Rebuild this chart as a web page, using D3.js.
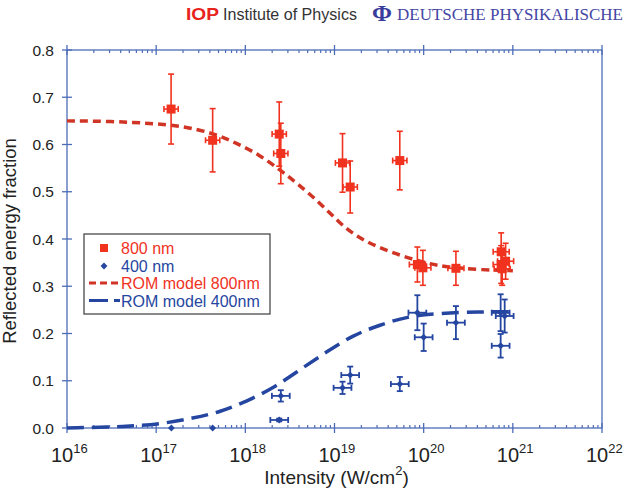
<!DOCTYPE html>
<html>
<head>
<meta charset="utf-8">
<script src="https://cdn.jsdelivr.net/npm/d3@7"></script>
<style>
  body { margin: 0; background: #fff; }
  text { font-family: "Liberation Sans", Arial, sans-serif; }
</style>
</head>
<body>
<div id="grafico"></div>
<script>
// measured 800 nm points: intensity, reflectivity, y error, x error (decades)
const redI    = [1.47e17, 4.3e17, 2.4e18, 2.5e18, 1.23e19, 1.5e19, 5.4e19, 8.5e19, 9.8e19, 2.3e20, 7.4e20, 8.3e20, 7.4e20, 7.6e20];
const redR    = [0.675, 0.609, 0.622, 0.581, 0.561, 0.510, 0.566, 0.346, 0.339, 0.338, 0.373, 0.353, 0.346, 0.337];
const redErr  = [0.074, 0.067, 0.068, 0.064, 0.062, 0.055, 0.062, 0.037, 0.037, 0.036, 0.040, 0.038, 0.040, 0.035];
const redXErr = [0.08, 0.08, 0.08, 0.08, 0.08, 0.08, 0.08, 0.09, 0.09, 0.09, 0.09, 0.09, 0.09, 0.09];

// measured 400 nm points
const blueI    = [1.48e17, 4.3e17, 2.4e18, 2.5e18, 1.23e19, 1.5e19, 5.4e19, 8.5e19, 1.0e20, 2.3e20, 7.3e20, 8.1e20, 7.3e20];
const blueR    = [0.000, 0.000, 0.017, 0.068, 0.085, 0.112, 0.093, 0.244, 0.192, 0.223, 0.244, 0.237, 0.174];
const blueErr  = [0, 0, 0.003, 0.012, 0.013, 0.018, 0.015, 0.037, 0.029, 0.035, 0.039, 0.035, 0.025];
const blueXErr = [0, 0, 0.1, 0.1, 0.1, 0.1, 0.1, 0.1, 0.1, 0.1, 0.1, 0.1, 0.1];

// ROM model curves (log10 intensity, reflectivity)
const romRedExp  = [16, 16.5, 16.93, 17.3, 17.64, 17.9, 18.16, 18.39, 18.58, 18.84, 19.06, 19.25, 19.47, 19.77, 20.07, 20.26, 20.6, 21.0];
const romRedVal  = [0.650, 0.649, 0.645, 0.639, 0.624, 0.603, 0.578, 0.546, 0.518, 0.476, 0.433, 0.405, 0.384, 0.363, 0.347, 0.341, 0.335, 0.333];
const romBlueExp = [16, 16.67, 17.04, 17.42, 17.72, 18.01, 18.31, 18.61, 18.91, 19.21, 19.51, 19.81, 20.18, 20.63, 20.97];
const romBlueVal = [0.000, 0.003, 0.008, 0.021, 0.034, 0.056, 0.084, 0.123, 0.161, 0.197, 0.218, 0.236, 0.243, 0.246, 0.246];

const xTickExp = [16, 17, 18, 19, 20, 21, 22];
const yTicks   = [0.0, 0.1, 0.2, 0.3, 0.4, 0.5, 0.6, 0.7, 0.8];

const legendLabels = ["800 nm", "400 nm", "ROM model 800nm", "ROM model 400nm"];

const red      = "#f0321e";
const redLine  = "#cf3424";
const blue     = "#2546a0";
const axisCol  = "#4d6cb8";

const margin = { top: 50, left: 67, bottom: 62, right: 25 };
const W = 627, H = 490;
const width  = W - margin.left - margin.right;
const height = H - margin.top - margin.bottom;

const svg0 = d3.select("#grafico")
               .append("svg")
               .attr("width", W)
               .attr("height", H);

svg0.append("rect").attr("width", W).attr("height", H).attr("fill", "#fff");

// header logos
const hdr = svg0.append("g");
hdr.append("text").attr("x", 186).attr("y", 20)
   .attr("font-size", 17).attr("font-weight", "bold").attr("fill", "#e8231c")
   .attr("textLength", 33).attr("lengthAdjust", "spacingAndGlyphs")
   .text("IOP");
hdr.append("text").attr("x", 223).attr("y", 20)
   .attr("font-size", 16.5).attr("fill", "#333")
   .attr("textLength", 134).attr("lengthAdjust", "spacingAndGlyphs")
   .text("Institute of Physics");
hdr.append("text").attr("x", 372).attr("y", 21)
   .style("font-family", "'Liberation Serif', serif")
   .attr("font-size", 24).attr("font-weight", "bold").attr("fill", "#3a3c9c")
   .text("Φ");
hdr.append("text").attr("x", 397).attr("y", 20)
   .style("font-family", "'Liberation Serif', serif")
   .attr("font-size", 16.5).attr("fill", "#4446a4")
   .attr("textLength", 226).attr("lengthAdjust", "spacingAndGlyphs")
   .text("DEUTSCHE PHYSIKALISCHE");

const svg = svg0.append("g")
                .attr("transform", `translate(${margin.left}, ${margin.top})`);

const xScale = d3.scaleLog()
                 .domain([1e16, 1e22])
                 .range([0, width]);

const yScale = d3.scaleLinear()
                 .domain([0, 0.8])
                 .range([height, 0]);

// frame
svg.append("rect")
   .attr("x", 0).attr("y", 0)
   .attr("width", width).attr("height", height)
   .attr("fill", "none")
   .attr("stroke", axisCol)
   .attr("stroke-width", 1.3);

// major x ticks cross the axis lines, minor ticks point inward
const minor = [];
xTickExp.slice(0, -1).forEach(e => {
    for (let k = 2; k <= 9; k++) minor.push(k * Math.pow(10, e));
});
const majors = xTickExp.map(e => Math.pow(10, e));

[0, height].forEach(yy => {
    const dir = yy === 0 ? 1 : -1;
    svg.append("g").selectAll("line")
       .data(majors).join("line")
       .attr("x1", d => xScale(d)).attr("x2", d => xScale(d))
       .attr("y1", yy - 5).attr("y2", yy + 5)
       .attr("stroke", axisCol).attr("stroke-width", 1.3);
    svg.append("g").selectAll("line")
       .data(minor).join("line")
       .attr("x1", d => xScale(d)).attr("x2", d => xScale(d))
       .attr("y1", yy).attr("y2", yy + dir * 3)
       .attr("stroke", axisCol).attr("stroke-width", 1.2);
});

// y ticks on left
svg.append("g").selectAll("line")
   .data(yTicks).join("line")
   .attr("x1", -5).attr("x2", 5)
   .attr("y1", d => yScale(d)).attr("y2", d => yScale(d))
   .attr("stroke", axisCol).attr("stroke-width", 1.3);

svg.append("g").selectAll("text")
   .data(yTicks).join("text")
   .attr("x", -13)
   .attr("y", d => yScale(d) + 5.5)
   .attr("text-anchor", "end")
   .attr("font-size", 15.5)
   .attr("fill", "#222")
   .text(d => d.toFixed(1));

// x tick labels 10^n
const xl = svg.append("g").selectAll("text")
   .data(xTickExp).join("text")
   .attr("x", d => xScale(Math.pow(10, d)) - 16)
   .attr("y", height + 34)
   .attr("font-size", 20)
   .attr("fill", "#222");
xl.append("tspan").text("10");
xl.append("tspan").attr("dy", -9).attr("font-size", 13).text(d => d);

// axis titles
svg.append("text")
   .attr("x", width / 2 + 2)
   .attr("y", height + 56)
   .attr("text-anchor", "middle")
   .attr("font-size", 19)
   .attr("fill", "#222")
   .call(t => {
       t.append("tspan").text("Intensity (W/cm");
       t.append("tspan").attr("dy", -9).attr("font-size", 13).text("2");
       t.append("tspan").attr("dy", 9).text(")");
   });

svg.append("text")
   .attr("transform", `translate(${15.5 - margin.left}, ${height / 2 + 2}) rotate(-90)`)
   .attr("text-anchor", "middle")
   .attr("font-size", 18.5)
   .attr("fill", "#222")
   .text("Reflected energy fraction");

// model curves
const romLine = d3.line()
                  .x(d => xScale(Math.pow(10, d[0])))
                  .y(d => yScale(d[1]))
                  .curve(d3.curveBasis);

svg.append("path")
   .datum(romRedExp.map((e, i) => [e, romRedVal[i]]))
   .attr("d", romLine)
   .attr("fill", "none")
   .attr("stroke", redLine)
   .attr("stroke-width", 3.5)
   .attr("stroke-dasharray", "8,5");

svg.append("path")
   .datum(romBlueExp.map((e, i) => [e, romBlueVal[i]]))
   .attr("d", romLine)
   .attr("fill", "none")
   .attr("stroke", blue)
   .attr("stroke-width", 3.5)
   .attr("stroke-dasharray", "17,8");

// error bars
function errorBars(I, R, yErr, xErr, color, sw) {
    const g = svg.append("g").attr("stroke", color).attr("stroke-width", sw);
    I.forEach((v, i) => {
        const cx = xScale(v), cy = yScale(R[i]);
        if (yErr[i] > 0) {
            const y1 = yScale(R[i] + yErr[i]), y2 = yScale(R[i] - yErr[i]);
            g.append("line").attr("x1", cx).attr("x2", cx).attr("y1", y1).attr("y2", y2);
            g.append("line").attr("x1", cx - 3).attr("x2", cx + 3).attr("y1", y1).attr("y2", y1);
            g.append("line").attr("x1", cx - 3).attr("x2", cx + 3).attr("y1", y2).attr("y2", y2);
        }
        if (xErr[i] > 0) {
            const x1 = xScale(v / Math.pow(10, xErr[i])), x2 = xScale(v * Math.pow(10, xErr[i]));
            g.append("line").attr("x1", x1).attr("x2", x2).attr("y1", cy).attr("y2", cy);
            g.append("line").attr("x1", x1).attr("x2", x1).attr("y1", cy - 3).attr("y2", cy + 3);
            g.append("line").attr("x1", x2).attr("x2", x2).attr("y1", cy - 3).attr("y2", cy + 3);
        }
    });
}

errorBars(redI, redR, redErr, redXErr, red, 1.6);
errorBars(blueI, blueR, blueErr, blueXErr, blue, 1.8);

svg.append("g").selectAll("rect")
   .data(redI).join("rect")
   .attr("x", (d, i) => xScale(d) - 4.5)
   .attr("y", (d, i) => yScale(redR[i]) - 4.5)
   .attr("width", 9).attr("height", 9)
   .attr("fill", red);

svg.append("g").selectAll("path")
   .data(blueI).join("path")
   .attr("transform", (d, i) => `translate(${xScale(d)}, ${yScale(blueR[i])})`)
   .attr("d", d3.symbol(d3.symbolDiamond2, 30))
   .attr("fill", blue);

// legend
const lg = svg0.append("g").attr("transform", "translate(84, 234)");
lg.append("rect")
  .attr("width", 186).attr("height", 80)
  .attr("fill", "#fff")
  .attr("stroke", "#4a4a4a").attr("stroke-width", 1.3);

const legColors = [red, blue, red, blue];
lg.selectAll("text.lab")
  .data(legendLabels).join("text")
  .attr("class", "lab")
  .attr("x", 37)
  .attr("y", (d, i) => 20 + i * 17.5)
  .attr("font-size", 16)
  .attr("fill", (d, i) => legColors[i])
  .text(d => d);

lg.append("rect").attr("x", 16).attr("y", 10).attr("width", 8).attr("height", 8).attr("fill", red);
lg.append("path").attr("transform", "translate(20, 32)")
  .attr("d", d3.symbol(d3.symbolDiamond2, 30)).attr("fill", blue);
lg.append("line").attr("x1", 5).attr("x2", 36).attr("y1", 49).attr("y2", 49)
  .attr("stroke", redLine).attr("stroke-width", 3).attr("stroke-dasharray", "7,4");
lg.append("line").attr("x1", 5).attr("x2", 36).attr("y1", 66.5).attr("y2", 66.5)
  .attr("stroke", blue).attr("stroke-width", 3).attr("stroke-dasharray", "19,6");
</script>
</body>
</html>
